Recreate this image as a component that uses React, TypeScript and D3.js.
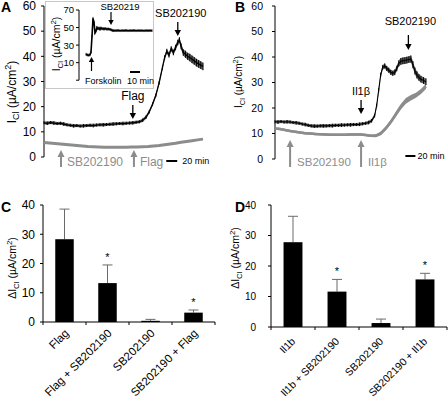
import React from "react";
import * as d3 from "d3";

const FONT = "'Liberation Sans', Arial, Helvetica, sans-serif";
const GRAY = "#8c8c8c";

// ---------------- Panel A (Flag) : time in min, I_Cl in µA/cm² ----------------
const aBlackTime = [0, 6, 12, 18, 24, 30, 36, 42, 48, 54, 60, 66, 72, 78, 84, 90, 96, 102, 108, 114, 120, 126, 132, 138, 144, 150, 156, 162, 168, 174, 180, 186, 192, 198, 204, 210, 216, 220, 224, 228, 232, 236, 240, 244, 247, 250, 254, 258, 262, 266, 270, 274, 278, 282, 286, 290];
const aBlackVal = [13.6, 13.4, 13.7, 13.5, 13.3, 13.4, 13.1, 12.8, 12.6, 12.4, 12.5, 12.3, 12.4, 12.5, 12.6, 12.5, 12.7, 12.8, 12.8, 12.9, 13.0, 13.1, 13.2, 13.3, 13.3, 13.4, 13.5, 13.6, 13.8, 14.0, 14.6, 15.8, 18.0, 21.0, 24.5, 29.5, 35.5, 39.5, 42.0, 40.5, 43.0, 41.5, 43.5, 45.5, 46.5, 44.0, 41.5, 40.8, 40.0, 39.5, 38.8, 38.2, 37.5, 37.0, 36.5, 36.0];
const aBlackErr = [0.6, 0.7, 0.6, 0.7, 0.6, 0.6, 0.7, 0.6, 0.6, 0.7, 0.6, 0.6, 0.7, 0.6, 0.6, 0.7, 0.6, 0.6, 0.7, 0.6, 0.6, 0.7, 0.6, 0.6, 0.7, 0.6, 0.6, 0.7, 0.6, 0.6, 0.7, 0.7, 0.7, 0.7, 0.7, 0.7, 0.8, 0.9, 1.0, 1.0, 1.0, 1.1, 1.1, 1.1, 1.1, 1.2, 1.3, 1.4, 1.4, 1.5, 1.5, 1.5, 1.5, 1.5, 1.5, 1.5];
const aGrayTime = [0, 10, 20, 30, 40, 50, 60, 70, 80, 90, 100, 110, 120, 130, 140, 150, 160, 170, 180, 190, 200, 210, 220, 230, 240, 250, 260, 270, 280, 290];
const aGrayVal = [5.8, 5.6, 5.4, 5.2, 5.0, 4.8, 4.6, 4.4, 4.2, 4.1, 4.0, 3.9, 3.9, 3.9, 3.9, 3.9, 4.0, 4.0, 4.1, 4.2, 4.4, 4.6, 4.9, 5.2, 5.5, 5.9, 6.2, 6.5, 6.8, 7.1];
const aGrayEvents = [{ label: "SB202190", t: 31 }, { label: "Flag", t: 164 }];
const aBlackEvents = [{ label: "Flag", t: 162 }, { label: "SB202190", t: 244 }];

// ---------------- Inset (Forskolin) ----------------
const insetTime = [0, 1, 2, 3, 4, 5, 6, 7, 8, 9, 10, 11, 12, 13, 14, 15, 16, 17, 18, 19, 20, 21, 22, 23, 24, 25, 26, 27, 28, 30, 32, 34, 36, 38, 40, 42, 44, 46, 48, 50, 52, 54, 56, 58, 60, 62, 64, 66];
const insetVal = [19.5, 19, 18.5, 18.5, 19, 22, 40, 60.5, 56, 44, 46, 50, 48.5, 49.5, 48, 49.5, 48.5, 49, 48, 49, 48.5, 48, 48.5, 48, 48, 47.5, 47, 46.5, 46.5, 46.5, 46.8, 46.4, 46.7, 46.5, 46.8, 46.4, 46.6, 46.5, 46.8, 46.4, 46.7, 46.5, 46.6, 46.4, 46.7, 46.5, 46.6, 46.5];
const insetTicks = [-10, 10, 30, 50, 70];
const insetEvents = [{ label: "Forskolin", t: 5.5 }, { label: "SB20219", t: 25 }];

// ---------------- Panel B (Il1β) ----------------
const bBlackTime = [0, 6, 12, 18, 24, 30, 36, 42, 48, 54, 60, 66, 72, 78, 84, 90, 96, 102, 108, 114, 120, 126, 132, 138, 144, 150, 156, 162, 168, 174, 180, 186, 192, 198, 202, 206, 210, 214, 218, 222, 226, 230, 234, 238, 242, 246, 250, 254, 258, 262, 266, 270, 274, 278, 282, 286, 290, 295, 300];
const bBlackVal = [14.6, 14.5, 14.7, 14.5, 14.6, 14.5, 14.3, 14.2, 14.0, 13.7, 13.5, 13.2, 13.0, 12.9, 12.9, 13.0, 13.0, 13.0, 13.1, 13.1, 13.2, 13.2, 13.3, 13.3, 13.4, 13.4, 13.5, 13.5, 13.6, 13.8, 14.0, 14.3, 15.0, 17.0, 21.0, 27.0, 33.0, 36.0, 36.5, 35.5, 34.8, 34.0, 33.6, 34.0, 35.5, 37.5, 38.3, 38.5, 38.6, 38.8, 39.0, 39.2, 37.0, 34.5, 33.0, 32.0, 31.3, 30.8, 30.3];
const bBlackErr = [0.6, 0.7, 0.6, 0.6, 0.7, 0.6, 0.6, 0.7, 0.6, 0.6, 0.7, 0.6, 0.6, 0.7, 0.6, 0.6, 0.7, 0.6, 0.6, 0.7, 0.6, 0.6, 0.7, 0.6, 0.6, 0.7, 0.6, 0.6, 0.7, 0.6, 0.6, 0.7, 0.7, 0.7, 0.7, 0.8, 0.8, 0.9, 1.0, 1.0, 1.0, 1.0, 1.0, 1.1, 1.1, 1.2, 1.3, 1.3, 1.3, 1.3, 1.3, 1.4, 1.4, 1.4, 1.4, 1.3, 1.3, 1.3, 1.3];
const bGrayTime = [0, 10, 20, 30, 40, 50, 60, 70, 80, 90, 100, 110, 120, 130, 140, 150, 160, 170, 180, 190, 200, 210, 220, 230, 240, 250, 260, 270, 280, 290, 300];
const bGrayVal = [12.0, 11.8, 11.4, 11.0, 10.7, 10.4, 10.1, 10.0, 9.8, 9.7, 9.6, 9.5, 9.5, 9.5, 9.5, 9.6, 9.6, 9.6, 9.4, 9.1, 9.1, 10.0, 12.0, 14.5, 17.5, 20.5, 22.8, 24.0, 25.0, 26.5, 28.5];
const bGrayErr = [0.5, 0.5, 0.5, 0.5, 0.5, 0.5, 0.5, 0.5, 0.5, 0.5, 0.5, 0.5, 0.5, 0.5, 0.5, 0.5, 0.5, 0.5, 0.5, 0.5, 0.6, 0.7, 0.8, 0.9, 1.0, 1.1, 1.1, 1.1, 1.0, 1.0, 1.0];
const bGrayEvents = [{ label: "SB202190", t: 30 }, { label: "Il1β", t: 171 }];
const bBlackEvents = [{ label: "Il1β", t: 171 }, { label: "SB202190", t: 265 }];

const traceTicks = [0, 10, 20, 30, 40, 50, 60];

// ---------------- Panel C ----------------
const cCats = ["Flag", "Flag + SB202190", "SB202190", "SB202190 + Flag"];
const cVals = [28.3, 13.3, 0.4, 3.2];
const cErrs = [10.3, 6.2, 0.5, 0.9];
const cSig = [false, true, false, true];

// ---------------- Panel D ----------------
const dCats = ["Il1b", "Il1b + SB202190", "SB202190", "SB202190 + Il1b"];
const dVals = [27.8, 11.6, 1.3, 15.6];
const dErrs = [8.5, 4.0, 1.3, 2.0];
const dSig = [false, true, false, true];

const barTicks = [0, 10, 20, 30, 40];

type Sc = d3.ScaleLinear<number, number>;

function YAxis({ scale, x, ticks, fontSize, gap, hideNeg = false }: { scale: Sc; x: number; ticks: number[]; fontSize: number; gap: number; hideNeg?: boolean }) {
  const [r0, r1] = scale.range();
  return (
    <g>
      <line x1={x} x2={x} y1={r0} y2={r1} stroke="#000" strokeWidth={1} />
      {ticks.map((t) => (
        <g key={t}>
          <line x1={x - 3} x2={x} y1={scale(t)} y2={scale(t)} stroke="#000" strokeWidth={1} />
          {!(hideNeg && t < 0) && (
            <text x={x - gap} y={scale(t)} dy="0.36em" textAnchor="end" fontSize={fontSize}>
              {t}
            </text>
          )}
        </g>
      ))}
    </g>
  );
}

function BlackTrace({ time, val, err, x, y, lw = 1.3 }: { time: number[]; val: number[]; err: number[]; x: Sc; y: Sc; lw?: number }) {
  const pts = time.map((t, i) => ({ t, v: val[i], e: err[i] }));
  const area = d3.area<any>().x((d) => x(d.t)).y0((d) => y(d.v - d.e)).y1((d) => y(d.v + d.e));
  const line = d3.line<any>().x((d) => x(d.t)).y((d) => y(d.v));
  return (
    <g>
      <path d={area(pts) || ""} fill="#6e6e6e" />
      {pts.map((d, i) => (
        <line key={i} x1={x(d.t)} x2={x(d.t)} y1={y(d.v - d.e)} y2={y(d.v + d.e)} stroke="#000" strokeWidth={1} />
      ))}
      <path d={line(pts) || ""} fill="none" stroke="#000" strokeWidth={lw} />
    </g>
  );
}

function Arrow({ x, tail, tip, color, width = 1.3, head = 6, hw = 3.2 }: { x: number; tail: number; tip: number; color: string; width?: number; head?: number; hw?: number }) {
  const dir = tip > tail ? 1 : -1;
  const base = tip - dir * head;
  return (
    <g>
      <line x1={x} x2={x} y1={tail} y2={base} stroke={color} strokeWidth={width} />
      <path d={`M${x - hw},${base} L${x + hw},${base} L${x},${tip} Z`} fill={color} />
    </g>
  );
}

function IclLabel({ x, y, fs, delta = false }: { x: number; y: number; fs: number; delta?: boolean }) {
  const sub = fs * 0.75;
  return (
    <text transform={`translate(${x},${y}) rotate(-90)`} textAnchor="middle" fontSize={fs}>
      {delta ? "Δ" : ""}I
      <tspan fontSize={sub} dy={fs * 0.25}>Cl</tspan>
      <tspan dy={-fs * 0.25}> (µA/cm</tspan>
      <tspan fontSize={sub} dy={-fs * 0.4}>2</tspan>
      <tspan dy={fs * 0.4}>)</tspan>
    </text>
  );
}

function BarPanel({ cats, vals, errs, sig, xr, y, axisX, tickFs, gap, catFs, catDx, catDy }: { cats: string[]; vals: number[]; errs: number[]; sig: boolean[]; xr: [number, number]; y: Sc; axisX: number; tickFs: number; gap: number; catFs: number; catDx: number; catDy: number }) {
  const x = d3.scaleBand<string>().domain(cats).range(xr).paddingInner(0.57).paddingOuter(0.285);
  const y0 = y(0);
  const step = x.step();
  return (
    <g>
      {cats.map((c, i) => {
        const cx = (x(c) as number) + x.bandwidth() / 2;
        const top = y(vals[i]);
        const et = y(vals[i] + errs[i]);
        return (
          <g key={c}>
            <line x1={cx} x2={cx} y1={top} y2={et} stroke="#6a6a6a" strokeWidth={1} />
            <line x1={cx - 5} x2={cx + 5} y1={et} y2={et} stroke="#6a6a6a" strokeWidth={1} />
            <rect x={x(c)} y={top} width={x.bandwidth()} height={y0 - top} fill="#000" />
            {sig[i] && (
              <text x={cx} y={et - 4} textAnchor="middle" fontSize={11}>*</text>
            )}
            <text transform={`translate(${cx + catDx},${y0 + catDy}) rotate(-45)`} textAnchor="end" fontSize={catFs}>
              {c}
            </text>
          </g>
        );
      })}
      <line x1={xr[0]} x2={xr[1]} y1={y0} y2={y0} stroke="#000" />
      {d3.range(cats.length + 1).map((i) => (
        <line key={i} x1={xr[0] + i * step} x2={xr[0] + i * step} y1={y0} y2={y0 + 3} stroke="#000" />
      ))}
      <YAxis scale={y} x={axisX} ticks={barTicks} fontSize={tickFs} gap={gap} />
    </g>
  );
}

export default function App() {
  // Panel A
  const axA = d3.scaleLinear().domain([0, 290]).range([44, 203]);
  const ayA = d3.scaleLinear().domain([0, 60]).range([157, 6]);
  // Inset
  const ixI = d3.scaleLinear().domain([0, 67]).range([86, 153]);
  const iyI = d3.scaleLinear().domain([-10, 70]).range([80.2, 10]);
  // Panel B
  const axB = d3.scaleLinear().domain([0, 300]).range([275, 426]);
  const ayB = d3.scaleLinear().domain([0, 60]).range([159, 6]);
  // Panels C, D
  const yC = d3.scaleLinear().domain([0, 40]).range([322, 205]);
  const yD = d3.scaleLinear().domain([0, 40]).range([327, 205]);

  const aGrayPath = d3.line<number>().x((t) => axA(t)).y((_, i) => ayA(aGrayVal[i]))(aGrayTime) || "";
  const bGrayPts = bGrayTime.map((t, i) => ({ t, v: bGrayVal[i], e: bGrayErr[i] }));
  const bGrayArea = d3.area<any>().x((d) => axB(d.t)).y0((d) => ayB(d.v - d.e)).y1((d) => ayB(d.v + d.e))(bGrayPts) || "";
  const bGrayPath = d3.line<any>().x((d) => axB(d.t)).y((d) => ayB(d.v))(bGrayPts) || "";

  return (
    <div style={{ position: "fixed", left: 0, top: 0 }}>
      <svg width={448} height={403} style={{ display: "block", background: "#fff" }} fontFamily={FONT}>
        {/* ===== Panel A ===== */}
        <text x={1} y={12} fontSize={14} fontWeight="bold">A</text>
        <YAxis scale={ayA} x={44} ticks={traceTicks} fontSize={12} gap={8} />
        <IclLabel x={16} y={92} fs={12} />
        <path d={aGrayPath} fill="none" stroke={GRAY} strokeWidth={3} strokeLinejoin="round" />
        <BlackTrace time={aBlackTime} val={aBlackVal} err={aBlackErr} x={axA} y={ayA} />
        <Arrow x={axA(aBlackEvents[0].t)} tail={105} tip={119} color="#000" />
        <text x={axA(aBlackEvents[0].t)} y={100} textAnchor="middle" fontSize={12}>{aBlackEvents[0].label}</text>
        <Arrow x={axA(aBlackEvents[1].t)} tail={22} tip={36} color="#000" />
        <text x={axA(aBlackEvents[1].t) + 3} y={17} textAnchor="middle" fontSize={11}>{aBlackEvents[1].label}</text>
        {aGrayEvents.map((e) => (
          <g key={e.label}>
            <Arrow x={axA(e.t)} tail={167} tip={150} color={GRAY} width={2} head={7} hw={3.5} />
            <text x={axA(e.t) + 6} y={166} fontSize={12} fill={GRAY}>{e.label}</text>
          </g>
        ))}
        <line x1={axA(223)} x2={axA(243)} y1={161} y2={161} stroke="#000" strokeWidth={2} />
        <text x={axA(243) + 5} y={164} fontSize={9}>20 min</text>

        {/* ===== Inset ===== */}
        <rect x={45.5} y={1.5} width={108} height={87} fill="#fff" stroke="#c8c8c8" strokeWidth={1} />
        <YAxis scale={iyI} x={79} ticks={insetTicks} fontSize={9.5} gap={5} hideNeg />
        <IclLabel x={60} y={44} fs={10.5} />
        <path d={d3.line<number>().x((t) => ixI(t)).y((_, i) => iyI(insetVal[i]))(insetTime) || ""} fill="none" stroke="#000" strokeWidth={1.6} />
        {insetTime.map((t, i) => (
          <line key={i} x1={ixI(t)} x2={ixI(t)} y1={iyI(insetVal[i]) - 1.4} y2={iyI(insetVal[i]) + 1.4} stroke="#000" strokeWidth={0.8} />
        ))}
        <Arrow x={ixI(insetEvents[0].t)} tail={71} tip={57} color="#000" width={1.2} head={5} hw={2.7} />
        <text x={85} y={84} fontSize={9}>{insetEvents[0].label}</text>
        <Arrow x={ixI(insetEvents[1].t)} tail={12} tip={25} color="#000" width={1.2} head={5} hw={2.7} />
        <text x={ixI(insetEvents[1].t) + 9} y={10} textAnchor="middle" fontSize={9.5}>{insetEvents[1].label}</text>
        <line x1={ixI(44)} x2={ixI(54)} y1={72} y2={72} stroke="#000" strokeWidth={2} />
        <text x={127} y={84} fontSize={9}>10 min</text>

        {/* ===== Panel B ===== */}
        <text x={235} y={12} fontSize={14} fontWeight="bold">B</text>
        <YAxis scale={ayB} x={275} ticks={traceTicks} fontSize={10.5} gap={12} />
        <IclLabel x={242} y={82} fs={10} />
        <path d={bGrayArea} fill={GRAY} />
        <path d={bGrayPath} fill="none" stroke={GRAY} strokeWidth={2.5} strokeLinejoin="round" />
        <BlackTrace time={bBlackTime} val={bBlackVal} err={bBlackErr} x={axB} y={ayB} lw={1.1} />
        <Arrow x={axB(bBlackEvents[0].t)} tail={100} tip={114} color="#000" />
        <text x={axB(bBlackEvents[0].t)} y={95} textAnchor="middle" fontSize={11}>{bBlackEvents[0].label}</text>
        <Arrow x={axB(bBlackEvents[1].t)} tail={35} tip={50} color="#000" />
        <text x={axB(bBlackEvents[1].t) + 2} y={25} textAnchor="middle" fontSize={11}>{bBlackEvents[1].label}</text>
        {bGrayEvents.map((e) => (
          <g key={e.label}>
            <Arrow x={axB(e.t)} tail={167} tip={140} color={GRAY} width={2} head={7} hw={3.5} />
            <text x={axB(e.t) + 7} y={166} fontSize={11.5} fill={GRAY}>{e.label}</text>
          </g>
        ))}
        <line x1={axB(259)} x2={axB(279)} y1={156} y2={156} stroke="#000" strokeWidth={2} />
        <text x={axB(279) + 2} y={159} fontSize={9}>20 min</text>

        {/* ===== Panel C ===== */}
        <text x={1} y={212} fontSize={14} fontWeight="bold">C</text>
        <IclLabel x={16} y={268} fs={10.5} delta />
        <BarPanel cats={cCats} vals={cVals} errs={cErrs} sig={cSig} xr={[43, 215]} y={yC} axisX={43} tickFs={12} gap={8} catFs={11.5} catDx={5} catDy={12} />

        {/* ===== Panel D ===== */}
        <text x={235} y={212} fontSize={14} fontWeight="bold">D</text>
        <IclLabel x={239} y={258} fs={10.5} delta />
        <BarPanel cats={dCats} vals={dVals} errs={dErrs} sig={dSig} xr={[271, 447]} y={yD} axisX={271} tickFs={10} gap={15} catFs={10.5} catDx={3} catDy={15} />
      </svg>
    </div>
  );
}
